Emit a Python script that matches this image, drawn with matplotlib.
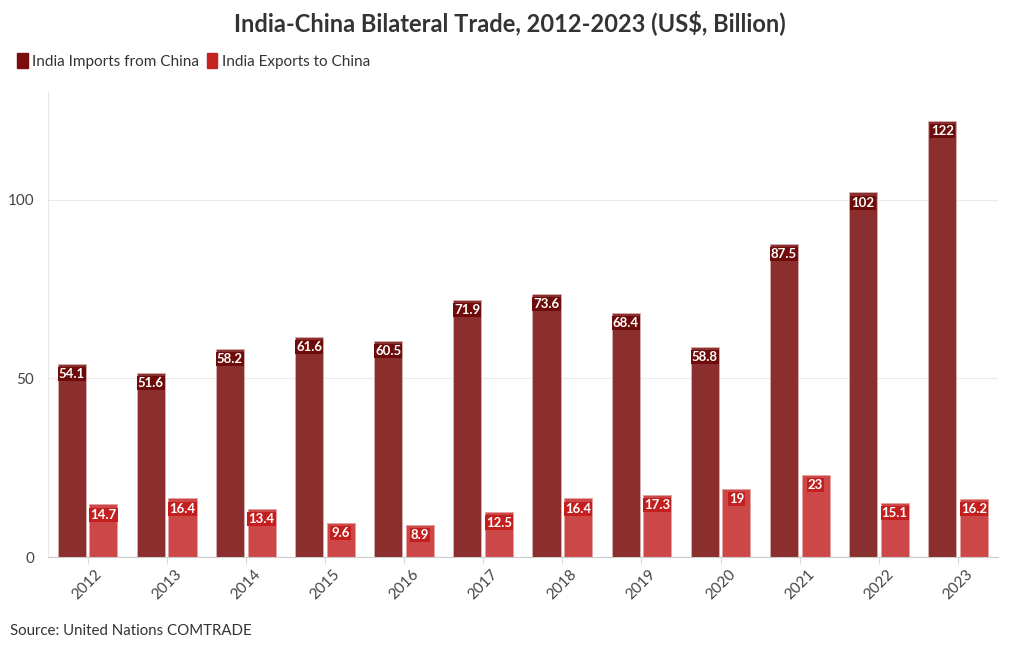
import matplotlib.pyplot as plt
from matplotlib import patches
import numpy as np

plt.rcParams['font.family'] = ['Lato', 'DejaVu Sans']

years = ['2012', '2013', '2014', '2015', '2016', '2017',
         '2018', '2019', '2020', '2021', '2022', '2023']
imports = [54.1, 51.6, 58.2, 61.6, 60.5, 71.9, 73.6, 68.4, 58.8, 87.5, 102, 122]
exports = [14.7, 16.4, 13.4, 9.6, 8.9, 12.5, 16.4, 17.3, 19, 23, 15.1, 16.2]

imp_col = '#8b2e2e'
exp_col = '#cc4747'
imp_box = '#6e0b0b'
exp_box = '#c41f1f'

fig = plt.figure(figsize=(10.2, 6.5), dpi=100)
ax = fig.add_axes([0.047, 0.143, 0.931, 0.715])

x = np.arange(len(years))
w = 0.355
ax.bar(x - 0.2, imports, w, color=imp_col, edgecolor='#d8b0b0', linewidth=0.6, zorder=2)
ax.bar(x + 0.2, exports, w, color=exp_col, edgecolor='#e8a0a0', linewidth=0.6, zorder=2)

def fmt(v):
    return ('%g' % v)

for i in range(len(years)):
    ax.annotate(fmt(imports[i]), (x[i] - 0.2, imports[i]), xytext=(0, -3),
                textcoords='offset points', ha='center', va='top',
                fontsize=9.5, fontweight='bold', color='white', zorder=3,
                bbox=dict(boxstyle='square,pad=0.08', fc=imp_box, ec='none'))
    ax.annotate(fmt(exports[i]), (x[i] + 0.2, exports[i]), xytext=(0, -3),
                textcoords='offset points', ha='center', va='top',
                fontsize=9.5, fontweight='bold', color='white', zorder=3,
                bbox=dict(boxstyle='square,pad=0.08', fc=exp_box, ec='none'))

ax.set_xlim(-0.5, 11.5)
ax.set_ylim(0, 130)
ax.set_yticks([0, 50, 100])
ax.set_xticks(x)
ax.set_xticklabels(years, rotation=45, ha='center', fontsize=11, color='#444444')
ax.tick_params(axis='y', length=0, labelsize=11, labelcolor='#444444', pad=10)
ax.tick_params(axis='x', length=5, color='#dddddd', pad=2)
ax.grid(axis='y', color='#ebebeb', linewidth=0.8, zorder=0)
for s in ['top', 'right']:
    ax.spines[s].set_visible(False)
ax.spines['left'].set_color('#e6e6e6')
ax.spines['bottom'].set_color('#cccccc')

fig.text(0.5, 0.965, 'India-China Bilateral Trade, 2012-2023 (US$, Billion)',
         ha='center', va='center', fontsize=17, fontweight='bold', color='#333333')

handles = [patches.Patch(color='#7a0c0c', label='India Imports from China'),
           patches.Patch(color='#c62222', label='India Exports to China')]
fig.legend(handles=handles, loc='upper left', bbox_to_anchor=(0.003, 0.94),
           ncol=2, frameon=False, handlelength=0.7, handleheight=1.2,
           handletextpad=0.3, columnspacing=0.5, fontsize=11, labelcolor='#333333')

fig.text(0.01, 0.029, 'Source: United Nations COMTRADE', ha='left', va='center',
         fontsize=10.8, color='#333333')

fig.savefig('out.png', dpi=100, facecolor='white')
